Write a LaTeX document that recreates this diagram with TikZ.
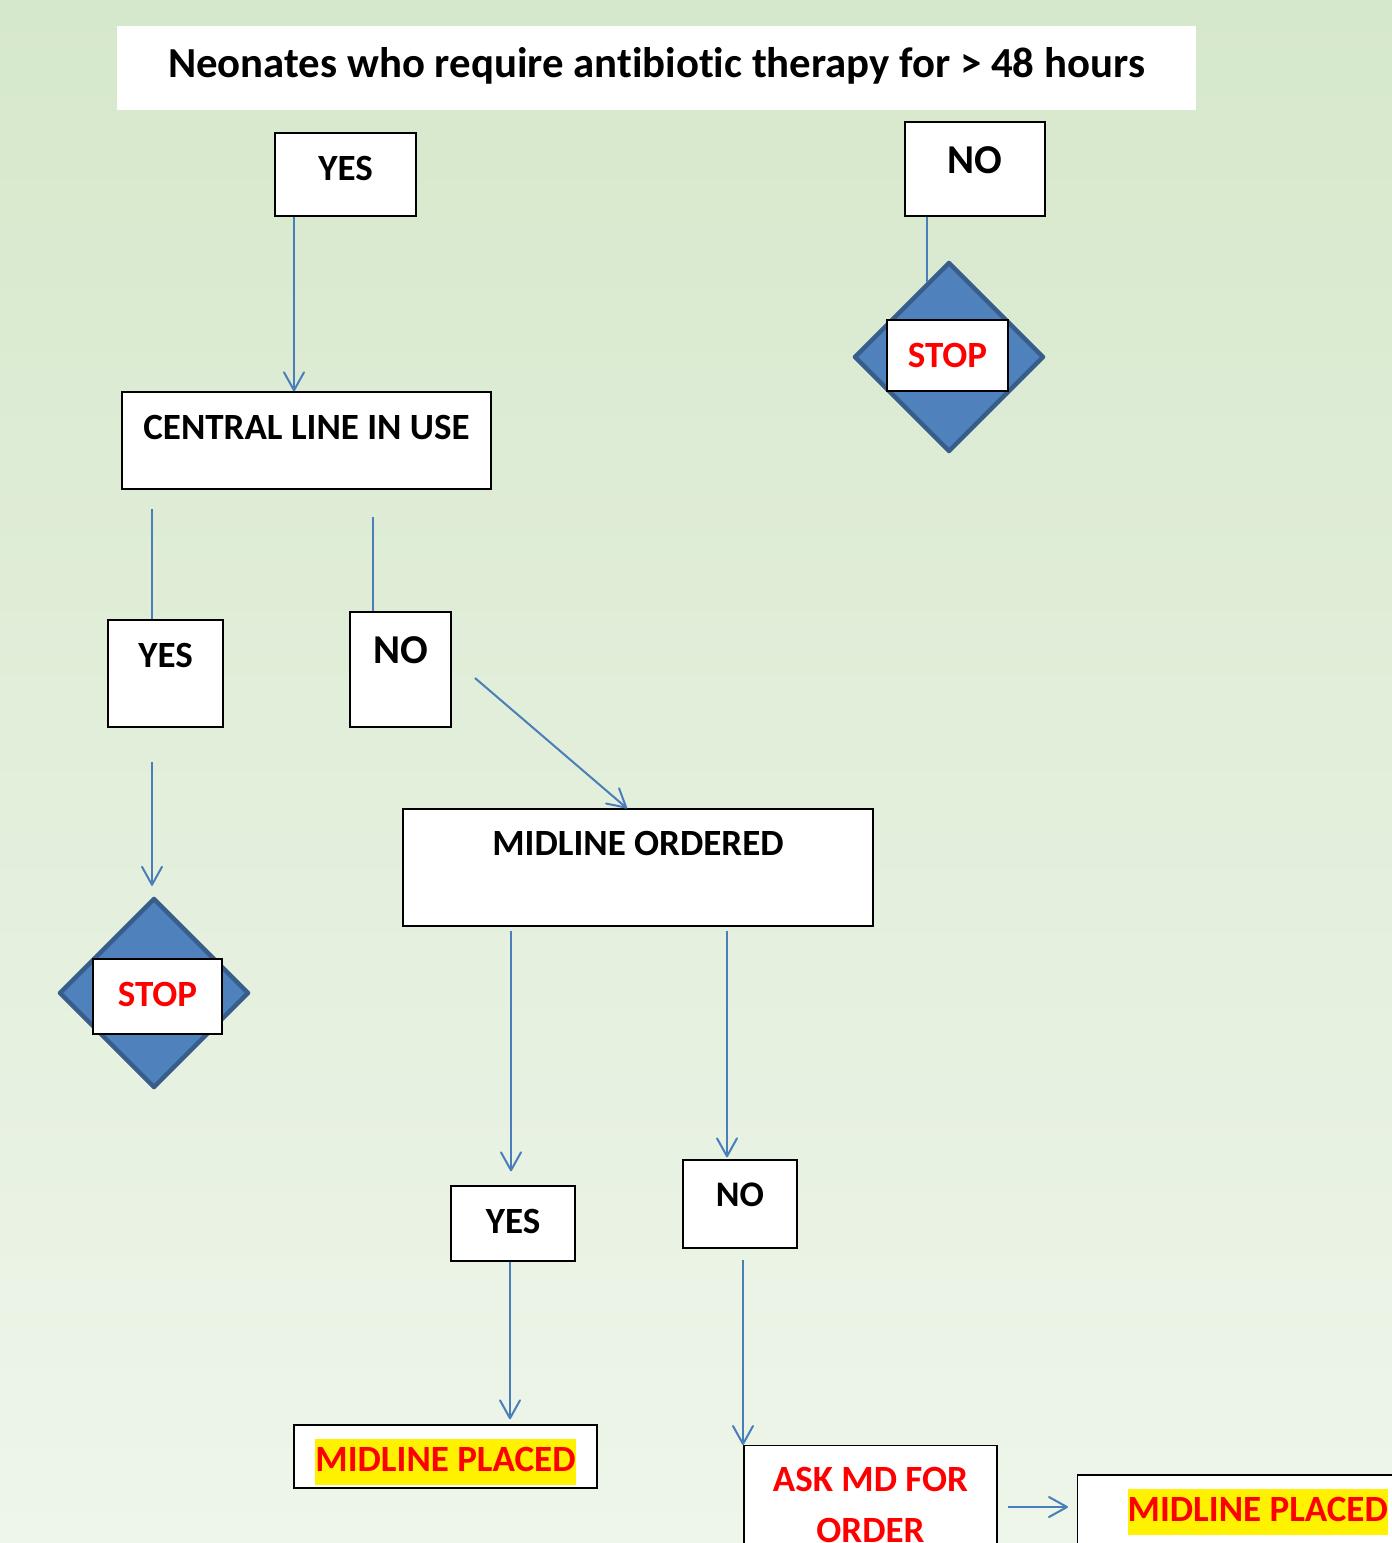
\documentclass[tikz,border=0pt]{standalone}
\usepackage{fontspec}
\setmainfont{Carlito}[Ligatures=NoCommon]
\usetikzlibrary{scopes,arrows.meta,shapes.geometric}
\definecolor{linkblue}{HTML}{4A7EBB}
\definecolor{stopfill}{HTML}{4F81BD}
\definecolor{stopedge}{HTML}{385D8A}
\definecolor{bgtop}{HTML}{D6E8CB}
\definecolor{bgbot}{HTML}{EEF5EA}
\setlength{\fboxsep}{0pt}
\tikzset{
    box/.style={draw=black, fill=white, line width=0.7pt, inner sep=0pt, anchor=base,
        font=\bfseries\fontsize{18.5}{23}\selectfont},
    bigbox/.style={box, font=\bfseries\fontsize{20.5}{25}\selectfont},
    stoptag/.style={box, text=red},
    plain/.style={draw=linkblue, line width=1pt},
    link/.style={plain, -{Straight Barb[length=9pt,width=10pt,round]}},
    stopsign/.style={diamond, draw=stopedge, fill=stopfill, line width=2.2pt, line join=round,
        minimum size=95pt, inner sep=0pt}
}
\newcommand{\marker}[1]{\colorbox{yellow}{\strut #1}}

\begin{document}
\begin{tikzpicture}[x=0.5pt, y=-0.5pt]
    \useasboundingbox (0,0) rectangle (1392,1543);
    \shade[top color=bgtop, bottom color=bgbot] (0,0) rectangle (1392,1543);
    %question
    \node[box, draw=none, minimum width=539.5pt, text height=25.75pt, text depth=16.25pt,
        font=\bfseries\fontsize{21.4}{25}\selectfont] (title) at (656.5,77.5)
        {Neonates who require antibiotic therapy for > 48 hours};
    %first answer
    { [xshift=0pt]
    \node[box, minimum width=70.5pt, text height=23.5pt, text depth=18pt] (yesTop) at (345.5,180) {YES};
    \node[bigbox, minimum width=70pt, text height=25.5pt, text depth=21.5pt] (noTop) at (975,173) {NO};
    \node[stopsign] (stopTop) at (949,357) {};
    \draw[plain] ([xshift=-24pt]noTop.south) -- ([xshift=-11pt,yshift=-11pt]stopTop.north);
    \node[stoptag, minimum width=60.5pt, text height=23.5pt, text depth=12pt] (stopTopTag) at (947.5,367) {STOP};
    }
    %central line
    { [xshift=0pt]
    \node[box, minimum width=184.5pt, text height=23.5pt, text depth=25pt] (central) at (306.5,439) {CENTRAL LINE IN USE};
    \draw[link] ([xshift=-25.75pt]yesTop.south) -- ([xshift=-25.75pt]yesTop.south |- central.north);
    \node[box, minimum width=57.5pt, text height=23.5pt, text depth=30pt] (yesLeft) at (165.5,667) {YES};
    \node[bigbox, minimum width=50.5pt, text height=25.5pt, text depth=32pt] (noLeft) at (400.5,663) {NO};
    \coordinate (yesLeftIn) at (152,509);
    \coordinate (noLeftIn) at (373,517);
    \draw[plain] (yesLeftIn) -- (yesLeftIn |- yesLeft.north);
    \draw[plain] (noLeftIn) -- (noLeftIn |- noLeft.north);
    \node[stopsign] (stopLeft) at (154,993) {};
    \node[stoptag, minimum width=64.5pt, text height=23.5pt, text depth=14pt] (stopLeftTag) at (157.5,1006) {STOP};
    \coordinate (yesLeftOut) at (152,762);
    \draw[link, shorten >=5pt] (yesLeftOut) -- (yesLeftOut |- stopLeft.north);
    }
    %midline
    { [xshift=0pt]
    \node[box, minimum width=235pt, text height=23pt, text depth=35.5pt] (ordered) at (638,855) {MIDLINE ORDERED};
    \coordinate (noLeftOut) at (475,678);
    \draw[link] (noLeftOut) -- ([xshift=-5.5pt]ordered.north);
    \node[box, minimum width=62pt, text height=23.5pt, text depth=14pt] (yesMid) at (513,1233) {YES};
    \node[box, minimum width=57pt, text height=23pt, text depth=21pt,
        font=\bfseries\fontsize{18}{22}\selectfont] (noMid) at (740,1206) {NO};
    \coordinate (orderedYes) at (511,931);
    \coordinate (orderedNo) at (727,931);
    \draw[link, shorten >=7pt] (orderedYes) -- (orderedYes |- yesMid.north);
    \draw[link, shorten >=1pt] (orderedNo) -- (orderedNo |- noMid.north);
    \node[box, minimum width=151.5pt, text height=23pt, text depth=8.5pt, text=red] (placedA) at (445.5,1471) {\marker{MIDLINE PLACED}};
    \draw[link, shorten >=2.5pt] ([xshift=-1.5pt]yesMid.south) -- ([xshift=-1.5pt]yesMid.south |- placedA.north);
    \node[box, anchor=north, minimum width=126.5pt, inner ysep=11pt, align=center, text=red,
        font=\bfseries\fontsize{18.5}{25.5}\selectfont] (askMd) at (870.5,1445) {ASK MD FOR\\ORDER};
    \coordinate (noMidOut) at (743,1260);
    \draw[link] (noMidOut) -- (noMidOut |- askMd.north);
    \node[box, anchor=base west, inner xsep=25pt, text height=23pt, text depth=40pt, text=red] (placedB) at (1077,1521) {\marker{MIDLINE PLACED}};
    \coordinate (askOut) at (1008,1507);
    \draw[link, shorten >=4.5pt] (askOut) -- (askOut -| placedB.west);
    }
\end{tikzpicture}
\end{document}
